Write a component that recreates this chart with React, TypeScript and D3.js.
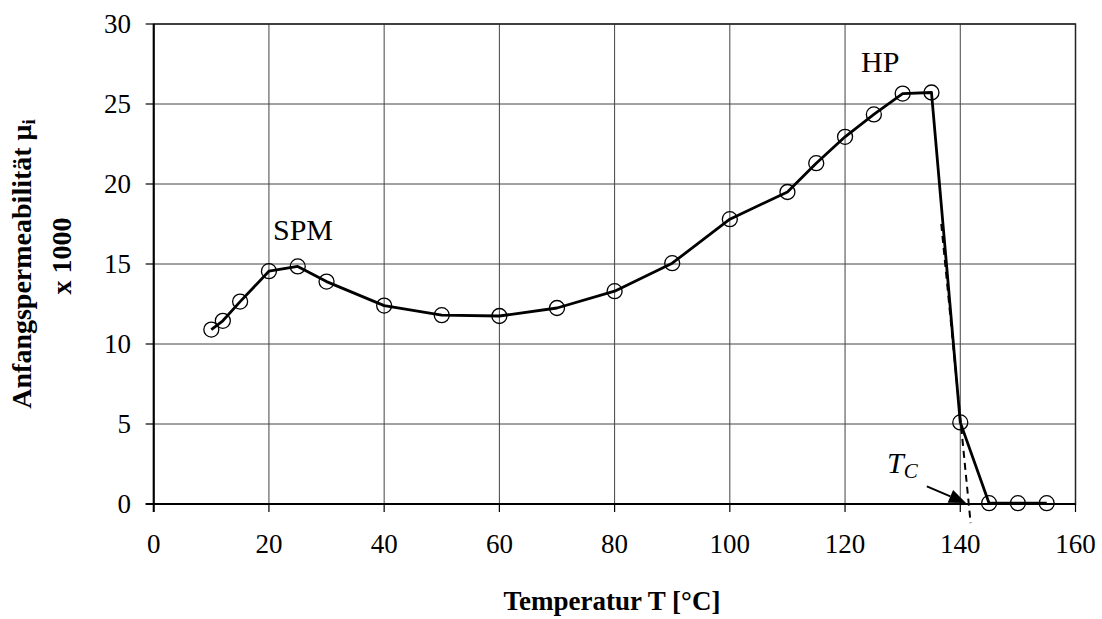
import * as d3 from "d3";

// Messwerte: Temperatur [°C] und Anfangspermeabilität (x 1000)
const temps = [10, 12, 15, 20, 25, 30, 40, 50, 60, 70, 80, 90, 100, 110, 115, 120, 125, 130, 135, 140, 145, 150, 155];
const mu = [10.9, 11.45, 12.65, 14.55, 14.85, 13.9, 12.4, 11.8, 11.75, 12.25, 13.3, 15.05, 17.8, 19.5, 21.3, 22.95, 24.35, 25.65, 25.72, 5.1, 0.05, 0.05, 0.05];

const xTicks = [0, 20, 40, 60, 80, 100, 120, 140, 160];
const yTicks = [0, 5, 10, 15, 20, 25, 30];

// Tangente zur Bestimmung von Tc (gestrichelt)
const tangentX = [136.7, 141.8];
const tangentY = [17.5, -1.2];

// Pfeil auf Tc
const arrowFrom = [134.2, 1.1];
const arrowTo = [141.0, 0.06];

const W = 1102;
const H = 619;
const font = "'Liberation Serif', 'Times New Roman', serif";

export default function App() {
  const x = d3.scaleLinear().domain([0, 160]).range([153.7, 1075.5]);
  const y = d3.scaleLinear().domain([0, 30]).range([504, 24]);

  const line = d3
    .line<number>()
    .x((_, i) => x(temps[i]))
    .y((d) => y(d));

  // Pfeilspitze
  const ax0 = x(arrowFrom[0]);
  const ay0 = y(arrowFrom[1]);
  const ax1 = x(arrowTo[0]);
  const ay1 = y(arrowTo[1]);
  const len = Math.hypot(ax1 - ax0, ay1 - ay0);
  const ux = (ax1 - ax0) / len;
  const uy = (ay1 - ay0) / len;
  const headL = 17;
  const headW = 7;
  const bx = ax1 - ux * headL;
  const by = ay1 - uy * headL;
  const head = [
    [ax1, ay1],
    [bx - uy * headW, by + ux * headW],
    [bx + uy * headW, by - ux * headW],
  ]
    .map((p) => p.join(","))
    .join(" ");

  return (
    <svg
      width={W}
      height={H}
      style={{ position: "absolute", left: 0, top: 0, background: "#fff" }}
      fontFamily={font}
    >
      {/* Gitter */}
      {yTicks.map((t) => (
        <line key={"gy" + t} x1={x(0)} x2={x(160)} y1={y(t)} y2={y(t)} stroke="#444" strokeWidth={1} />
      ))}
      {xTicks.map((t) => (
        <line key={"gx" + t} x1={x(t)} x2={x(t)} y1={y(0)} y2={y(30)} stroke="#444" strokeWidth={1} />
      ))}
      <rect x={x(0)} y={y(30)} width={x(160) - x(0)} height={y(0) - y(30)} fill="none" stroke="#222" strokeWidth={1.5} />

      {/* Achsen */}
      <line x1={x(0)} x2={x(0)} y1={y(0) + 8} y2={y(30)} stroke="#000" strokeWidth={2} />
      <line x1={x(0) - 8} x2={x(160)} y1={y(0)} y2={y(0)} stroke="#000" strokeWidth={2} />
      {yTicks.map((t) => (
        <g key={"ty" + t}>
          <line x1={x(0) - 8} x2={x(0)} y1={y(t)} y2={y(t)} stroke="#000" strokeWidth={1.2} />
          <text x={131} y={y(t)} dy="0.35em" textAnchor="end" fontSize={27}>
            {t}
          </text>
        </g>
      ))}
      {xTicks.map((t) => (
        <g key={"tx" + t}>
          <line x1={x(t)} x2={x(t)} y1={y(0)} y2={y(0) + 8} stroke="#000" strokeWidth={1.2} />
          <text x={x(t)} y={553} textAnchor="middle" fontSize={27}>
            {t}
          </text>
        </g>
      ))}

      {/* Tangente */}
      <line
        x1={x(tangentX[0])}
        y1={y(tangentY[0])}
        x2={x(tangentX[1])}
        y2={y(tangentY[1])}
        stroke="#000"
        strokeWidth={2}
        strokeDasharray="7,5"
      />

      {/* Messkurve */}
      <path d={line(mu) || ""} fill="none" stroke="#000" strokeWidth={2.8} strokeLinejoin="round" />
      {mu.map((v, i) => (
        <circle key={"p" + i} cx={x(temps[i])} cy={y(v)} r={7.5} fill="none" stroke="#000" strokeWidth={1.3} />
      ))}

      {/* Pfeil */}
      <line x1={ax0} y1={ay0} x2={bx} y2={by} stroke="#000" strokeWidth={2} />
      <polygon points={head} fill="#000" />

      {/* Beschriftungen */}
      <text x={273} y={240} fontSize={30}>SPM</text>
      <text x={861} y={72} fontSize={30}>HP</text>
      <text x={887} y={473} fontSize={30} fontStyle="italic">
        T<tspan fontSize={21} dy={5}>C</tspan>
      </text>

      <text x={612} y={610} textAnchor="middle" fontSize={27} fontWeight="bold">
        Temperatur T [°C]
      </text>
      <g transform="rotate(-90)">
        <text x={-264} y={31} textAnchor="middle" fontSize={28} fontWeight="bold">
          Anfangspermeabilität μ<tspan fontSize={19} dy={4}>i</tspan>
        </text>
        <text x={-256} y={71} textAnchor="middle" fontSize={28} fontWeight="bold">
          x 1000
        </text>
      </g>
    </svg>
  );
}
